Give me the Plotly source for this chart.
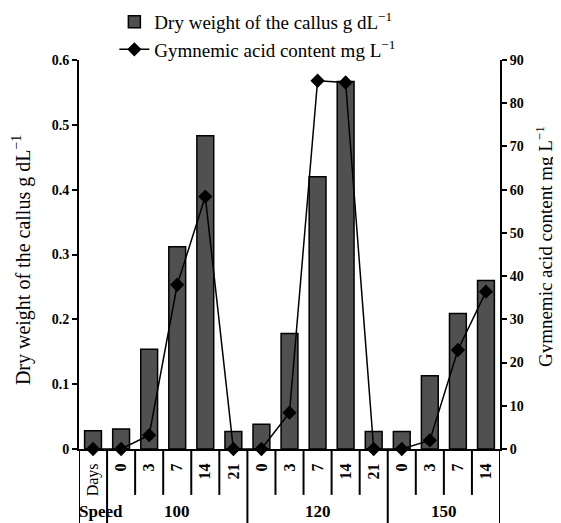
import plotly.graph_objects as go

# ---- data ----
day_labels = ["Days", "0", "3", "7", "14", "21", "0", "3", "7", "14", "21", "0", "3", "7", "14"]
speed_labels = ["Speed", "100", "120", "150"]
speed_sizes = [1, 5, 5, 4]
dry_weight = [0.028, 0.031, 0.154, 0.312, 0.483, 0.027, 0.038, 0.178, 0.420, 0.567,
              0.027, 0.027, 0.113, 0.209, 0.260]
gymnemic = [0, 0, 3.2, 38.0, 58.4, 0, 0, 8.4, 85.2, 84.8, 0, 0, 2.0, 22.9, 36.4]
left_ticks = [0, 0.1, 0.2, 0.3, 0.4, 0.5, 0.6]
right_ticks = [0, 10, 20, 30, 40, 50, 60, 70, 80, 90]

FONT = "Liberation Serif, Times New Roman, serif"
xpos = list(range(len(day_labels)))

fig = go.Figure()
fig.add_bar(
    x=xpos, y=dry_weight, yaxis="y", width=0.6,
    name="Dry weight of the callus g dL<sup>\u22121</sup>",
    marker=dict(color="#505050", line=dict(color="black", width=1.5)),
)
fig.add_scatter(
    x=xpos, y=gymnemic, yaxis="y2", mode="lines+markers", cliponaxis=False,
    name="Gymnemic acid content mg L<sup>\u22121</sup>",
    line=dict(color="black", width=1.5),
    marker=dict(symbol="diamond", size=11, color="black"),
)

ticktext = [t if t == "Days" else "<b>%s</b>" % t for t in day_labels]

shapes = []
annotations = []
n = len(day_labels)
group_bounds = set()
acc = 0
for lab, size in zip(speed_labels, speed_sizes):
    group_bounds.add(acc)
    center = acc + size / 2 - 0.5
    if lab == "Speed":
        annotations.append(dict(
            x=acc - 0.45, xref="x", y=-0.16, yref="paper", xshift=-3,
            text="<b>%s</b>" % lab, showarrow=False, yanchor="middle", xanchor="left",
            font=dict(family=FONT, size=17, color="black"),
        ))
    else:
        annotations.append(dict(
            x=center, xref="x", y=-0.16, yref="paper",
            text="<b>%s</b>" % lab, showarrow=False, yanchor="middle", xanchor="center",
            font=dict(family=FONT, size=17, color="black"),
        ))
    acc += size
group_bounds.add(acc)
for b in range(n + 1):
    long = b in group_bounds
    shapes.append(dict(
        type="line", xref="x", yref="paper", x0=b - 0.5, x1=b - 0.5,
        y0=0, y1=-0.25 if long else -0.118,
        line=dict(color="black", width=2),
    ))

annotations.append(dict(
    x=-0.135, xref="paper", y=0.486, yref="paper", textangle=-90,
    xanchor="center", yanchor="middle",
    text="Dry weight of the callus g dL<sup>\u22121</sup>", showarrow=False,
    font=dict(family=FONT, size=20, color="black"),
))
annotations.append(dict(
    x=1.103, xref="paper", y=0.52, yref="paper", textangle=-90,
    xanchor="center", yanchor="middle",
    text="Gymnemic acid content mg L<sup>\u22121</sup>", showarrow=False,
    font=dict(family=FONT, size=19, color="black"),
))

fig.update_layout(
    width=553, height=515,
    margin=dict(l=71, r=61, t=52, b=74, autoexpand=False),
    paper_bgcolor="white", plot_bgcolor="white",
    font=dict(family=FONT, color="black"),
    showlegend=True,
    legend=dict(x=0.084, y=1.147, xanchor="left", yanchor="top",
                font=dict(family=FONT, size=19, color="black"),
                bgcolor="rgba(0,0,0,0)", tracegroupgap=0),
    xaxis=dict(
        range=[-0.5, n - 0.5], tickmode="array", tickvals=xpos, ticktext=ticktext,
        tickangle=-90, ticks="", showgrid=False, zeroline=False,
        showline=True, linecolor="black", linewidth=2,
        tickfont=dict(family=FONT, size=16, color="black"),
        automargin=False, ticklabelstandoff=6,
    ),
    yaxis=dict(
        range=[0, 0.6], tickmode="array", tickvals=left_ticks,
        ticktext=["<b>%g</b>" % v for v in left_ticks],
        ticks="outside", ticklen=5, tickwidth=1.5, tickcolor="black",
        showline=True, linecolor="black", linewidth=2, showgrid=False, zeroline=False,
        tickfont=dict(family=FONT, size=14, color="black"),
        automargin=False,
    ),
    yaxis2=dict(
        range=[0, 90], overlaying="y", side="right", tickmode="array",
        tickvals=right_ticks, ticktext=["<b>%g</b>" % v for v in right_ticks],
        ticks="outside", ticklen=5, tickwidth=1.5, tickcolor="black",
        showline=True, linecolor="black", linewidth=2, showgrid=False, zeroline=False,
        tickfont=dict(family=FONT, size=14, color="black"),
        automargin=False,
    ),
    shapes=shapes,
    annotations=annotations,
)

fig.write_html("out.html")
